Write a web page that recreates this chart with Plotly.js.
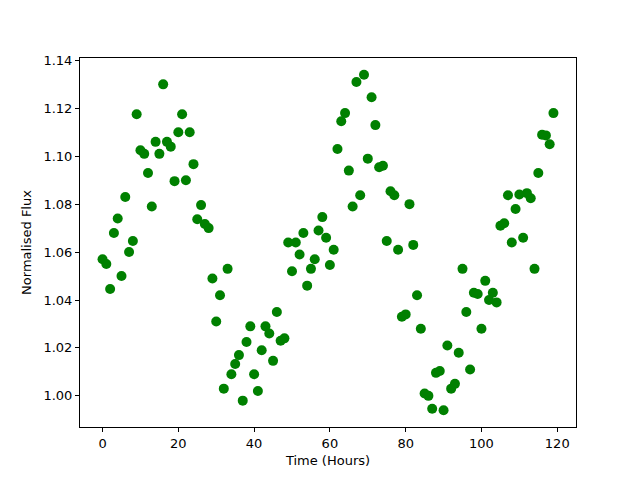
<!DOCTYPE html>
<html>
<head>
<meta charset="utf-8">
<script src="https://cdn.plot.ly/plotly-3.0.1.min.js"></script>
<style>html,body{margin:0;padding:0;background:#fff;}#chart{width:640px;height:480px;}</style>
</head>
<body>
<div id="chart"></div>
<script>
const hours = Array.from({length:120}, (_, i) => i);
const flux = [
1.057,1.055,1.0446,1.068,1.074,1.050,1.083,1.060,1.0646,1.1175,
1.1025,1.101,1.093,1.079,1.106,1.101,1.130,1.106,1.104,1.0896,
1.110,1.1175,1.090,1.110,1.0967,1.0737,1.0796,1.0717,1.070,1.049,
1.031,1.042,1.003,1.053,1.009,1.0133,1.017,0.998,1.0225,1.029,
1.009,1.002,1.019,1.029,1.026,1.0146,1.035,1.023,1.024,1.064,
1.052,1.064,1.059,1.068,1.046,1.053,1.057,1.069,1.0746,1.066,
1.0546,1.061,1.103,1.1146,1.118,1.094,1.079,1.131,1.0837,1.134,
1.099,1.1246,1.113,1.0954,1.096,1.0646,1.0854,1.0837,1.061,1.033,
1.034,1.080,1.063,1.042,1.028,1.001,1.000,0.9946,1.0096,1.0104,
0.994,1.021,1.003,1.005,1.018,1.053,1.035,1.011,1.043,1.0425,
1.028,1.048,1.040,1.043,1.039,1.071,1.072,1.0837,1.064,1.078,
1.084,1.066,1.0846,1.0825,1.053,1.093,1.109,1.1087,1.105,1.118
];
const xTicks = [0,20,40,60,80,100,120];
const yTicks = [1.00,1.02,1.04,1.06,1.08,1.10,1.12,1.14];

const axisCommon = {
  showgrid:false, zeroline:false, showline:true, mirror:true,
  linecolor:'#000', linewidth:1, ticks:'outside', ticklen:4, tickwidth:1, tickcolor:'#000',
  tickfont:{family:'DejaVu Sans', size:13, color:'#000'}
};
Plotly.newPlot('chart', [{
  x: hours, y: flux, type:'scatter', mode:'markers',
  marker:{color:'#008000', size:10}
}], {
  width:640, height:480,
  margin:{l:80, r:64, t:58, b:53},
  paper_bgcolor:'#fff', plot_bgcolor:'#fff',
  showlegend:false,
  xaxis: Object.assign({}, axisCommon, {
    range:[-5.95,124.95], tickvals:xTicks, ticktext:xTicks.map(String),
    title:{text:'Time (Hours)', font:{family:'DejaVu Sans', size:13, color:'#000'}, standoff:6}
  }),
  yaxis: Object.assign({}, axisCommon, {
    range:[0.987,1.141], tickvals:yTicks, ticktext:yTicks.map(v=>v.toFixed(2)),
    title:{text:'Normalised Flux', font:{family:'DejaVu Sans', size:13, color:'#000'}, standoff:8}
  })
}, {displayModeBar:false, staticPlot:true});
</script>
</body>
</html>
